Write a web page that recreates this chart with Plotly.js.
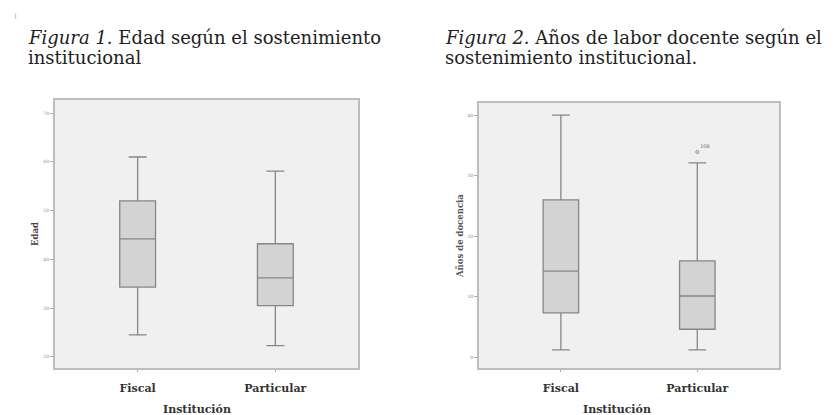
<!DOCTYPE html>
<html><head><meta charset="utf-8">
<script src="https://cdn.plot.ly/plotly-3.0.1.min.js"></script>
<style>html,body{margin:0;padding:0;background:#fff}#c{width:836px;height:415px}</style>
</head><body><div id="c"></div>
<script>
const categories = ["Fiscal", "Particular"];
// Figura 1: Edad
const edadLower = [24.5, 22.3];
const edadQ1 = [34.3, 30.5];
const edadMedian = [44.2, 36.2];
const edadQ3 = [52.0, 43.2];
const edadUpper = [61.0, 58.1];
const edadTicks = [20, 30, 40, 50, 60, 70];
// Figura 2: Años de docencia
const docLower = [1.2, 1.2];
const docQ1 = [7.3, 4.6];
const docMedian = [14.2, 10.1];
const docQ3 = [26.0, 15.9];
const docUpper = [40.0, 32.1];
const docOutlierCat = ["Particular"];
const docOutlierVal = [33.9];
const docOutlierLabel = ["108"];
const docTicks = [0, 10, 20, 30, 40];

const boxStyle = {type: "box", fillcolor: "#d3d3d3", line: {color: "#868686", width: 1.3},
  width: 0.26, whiskerwidth: 0.5, hoverinfo: "skip", showlegend: false};

const data = [
  Object.assign({}, boxStyle, {x: categories, q1: edadQ1, median: edadMedian, q3: edadQ3,
    lowerfence: edadLower, upperfence: edadUpper, xaxis: "x", yaxis: "y"}),
  Object.assign({}, boxStyle, {x: categories, q1: docQ1, median: docMedian, q3: docQ3,
    lowerfence: docLower, upperfence: docUpper, xaxis: "x2", yaxis: "y2"}),
  {type: "scatter", mode: "markers+text", x: docOutlierCat, y: docOutlierVal, text: docOutlierLabel,
   textposition: "top right", textfont: {size: 5, color: "#666", family: "DejaVu Serif"},
   marker: {symbol: "circle-open", size: 3, color: "#888", line: {width: 1}},
   xaxis: "x2", yaxis: "y2", showlegend: false, hoverinfo: "skip"}
];

const serif = "DejaVu Serif, Liberation Serif, serif";
function xax(domain, anchor) {
  return {domain: domain, anchor: anchor, type: "category", range: [-0.6, 1.6],
    showline: true, mirror: true, linecolor: "#bdbdbd", linewidth: 2,
    ticks: "outside", ticklen: 2, tickcolor: "#aaa", showgrid: false, zeroline: false,
    ticklabelstandoff: 7,
    tickfont: {family: serif, size: 11, color: "#333", weight: "bold"}};
}
function yax(domain, anchor, range, ticks) {
  return {domain: domain, anchor: anchor, range: range, tickvals: ticks,
    showline: true, mirror: true, linecolor: "#bdbdbd", linewidth: 2,
    ticks: "outside", ticklen: 3, tickcolor: "#aaa", showgrid: false, zeroline: false,
    tickfont: {family: serif, size: 4.5, color: "#888"}};
}
function px(x) { return x / 836; }
function py(y) { return 1 - y / 415; }
function txt(x, y, text, size, opts) {
  return Object.assign({xref: "paper", yref: "paper", x: px(x), y: py(y), xanchor: "left", yanchor: "middle",
    showarrow: false, text: text, font: {family: serif, size: size, color: "#222"}}, opts || {});
}

const layout = {
  width: 836, height: 415, margin: {l: 0, r: 0, t: 0, b: 0},
  paper_bgcolor: "#ffffff", plot_bgcolor: "#f0f0f0",
  font: {family: serif},
  xaxis: xax([0.0658, 0.4282], "y"),
  yaxis: yax([0.1133, 0.759], "x", [17.7, 72.7], edadTicks),
  xaxis2: xax([0.573, 0.932], "y2"),
  yaxis2: yax([0.1133, 0.7518], "x2", [-1.8, 42], docTicks),
  annotations: [
    txt(12, 15, "]", 6, {font: {family: serif, size: 6, color: "#999"}}),
    txt(26, 38, "<i>Figura 1.</i> Edad según el sostenimiento", 18),
    txt(26, 57, "institucional", 18),
    txt(443, 38, "<i>Figura 2.</i> Años de labor docente según el", 18),
    txt(443, 57, "sostenimiento institucional.", 18),
    txt(197, 409, "<b>Institución</b>", 11, {xanchor: "center", font: {family: serif, size: 11, color: "#333"}}),
    txt(617, 409, "<b>Institución</b>", 11, {xanchor: "center", font: {family: serif, size: 11, color: "#333"}}),
    txt(35, 234, "<b>Edad</b>", 8.5, {xanchor: "center", textangle: -90, font: {family: serif, size: 8.5, color: "#444"}}),
    txt(460, 236, "<b>Años de docencia</b>", 8.5, {xanchor: "center", textangle: -90, font: {family: serif, size: 8.5, color: "#555"}})
  ]
};
Plotly.newPlot("c", data, layout, {displayModeBar: false, staticPlot: true});
</script></body></html>
